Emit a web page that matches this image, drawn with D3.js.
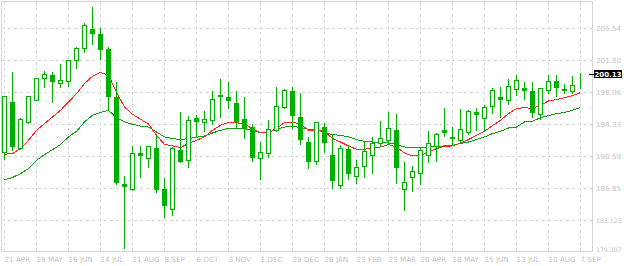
<!DOCTYPE html>
<html>
<head>
<meta charset="utf-8">
<script src="https://cdn.jsdelivr.net/npm/d3@7"></script>
<style>
  body { margin: 0; background: #fff; }
  svg { display: block; }
  .axis text { font-family: "DejaVu Sans", sans-serif; font-size: 7.2px; fill: #c4c4c4; }
  .axis path, .axis line { display: none; }
</style>
</head>
<body>
<div id="chart"></div>
<script>
// weekly candles, 21 Apr 2014 .. 7 Sep 2015
const startDate = "2014-04-21"
const open = [190.99,196.83,191.46,194.50,197.07,199.64,199.99,199.05,199.28,201.74,203.14,205.39,204.81,203.06,197.45,187.29,186.67,190.91,190.29,191.50,186.71,184.34,191.23,190.06,194.96,194.50,194.73,197.65,197.42,196.72,194.88,193.91,190.29,190.88,193.52,196.25,198.15,195.12,192.16,190.01,193.91,190.68,187.14,191.38,188.19,189.36,190.64,192.05,192.40,193.56,186.67,188.08,188.54,190.64,191.65,193.56,192.78,192.40,193.33,195.70,194.96,196.37,197.45,197.07,198.35,198.50,198.15,195.43,198.23,199.32,198.30,198.12,200.10]
const high = [197.60,200.41,195.12,197.69,199.82,200.60,200.49,201.42,201.76,203.41,206.21,208.00,205.66,203.41,199.32,188.34,191.85,191.85,191.85,193.01,188.03,191.65,195.82,195.31,195.47,195.93,198.27,199.64,199.32,198.27,197.53,194.38,192.28,194.88,198.74,198.50,198.74,198.00,192.82,194.55,194.50,193.10,191.96,191.85,190.21,192.40,192.90,194.77,195.82,195.55,189.94,189.48,191.58,193.56,193.36,196.25,194.07,196.17,196.02,196.25,196.63,198.58,198.74,199.64,200.14,199.24,199.32,198.58,200.14,200.14,199.05,199.99,200.40]
const low = [190.13,191.26,191.38,194.45,197.02,198.54,196.90,198.65,198.77,200.87,202.74,203.61,201.85,195.93,187.26,179.85,186.62,188.03,189.31,186.28,183.47,183.64,189.78,189.31,192.82,193.48,194.30,195.15,196.20,193.98,192.63,189.90,187.91,190.41,193.40,196.20,193.83,191.96,189.08,189.63,190.95,186.86,186.86,187.91,187.44,188.03,188.61,191.73,191.93,187.37,184.22,186.44,187.26,189.78,189.94,192.86,191.81,192.23,193.10,193.56,193.52,195.58,195.15,196.60,197.69,197.18,195.15,194.85,197.95,197.60,197.84,197.92,198.50]
const close = [197.53,191.65,194.85,197.53,199.64,200.10,199.24,199.40,201.74,203.14,205.82,204.89,203.09,197.60,187.56,187.02,190.88,190.60,191.69,186.74,184.76,191.50,190.01,194.73,194.68,194.85,197.18,197.49,197.02,194.68,193.83,190.48,190.99,193.68,196.37,198.27,195.27,192.47,190.01,194.50,192.12,187.68,191.50,188.50,189.24,191.11,192.05,192.63,193.80,189.24,187.49,188.78,191.23,192.05,193.10,193.33,192.63,193.68,195.78,195.43,196.25,198.23,197.14,198.70,199.40,198.23,195.62,198.47,199.28,198.65,198.35,198.82,200.13]
// moving averages
const maFast = [190.80,190.88,191.46,192.43,193.60,194.38,195.15,195.93,196.90,197.88,199.05,199.90,200.37,200.02,198.05,196.32,195.47,194.88,194.33,193.01,191.96,191.77,191.58,192.05,192.43,192.82,193.60,194.18,194.50,194.50,194.30,193.80,193.33,193.33,193.80,194.50,194.57,194.30,193.60,193.60,193.48,192.63,192.23,191.77,191.38,191.38,191.53,191.65,191.93,191.65,190.95,190.60,190.68,191.06,191.46,191.73,191.77,192.12,192.51,193.01,193.48,194.15,194.77,195.55,196.13,196.25,196.13,196.52,197.02,197.18,197.42,197.65,198.00]
const maSlow = [187.84,188.08,188.54,189.13,190.10,190.76,191.34,191.93,192.82,193.48,194.57,195.35,195.70,195.93,195.06,194.57,194.30,194.09,193.98,193.40,192.82,192.63,192.51,192.63,192.78,192.93,193.28,193.60,193.80,193.80,193.80,193.60,193.33,193.36,193.71,193.98,194.07,193.91,193.71,193.68,193.28,193.10,193.01,192.82,192.51,192.31,192.23,192.23,192.12,191.93,191.65,191.61,191.61,191.65,191.73,191.77,191.85,192.05,192.23,192.51,192.82,193.21,193.48,193.87,193.98,194.57,194.65,195.08,195.31,195.55,195.67,195.93,196.25]
const yTicks = [179.387,183.123,186.859,190.595,194.331,198.067,201.803,205.539]
const yTickLabels = ["179.387","183.123","186.85","190.59","194.33","198.06","201.80","205.54"]
const xTickLabels = ["21 APR","19 MAY","16 JUN","14 JUL","11 AUG","8 SEP","6 OCT","3 NOV","1 DEC","29 DEC","26 JAN","23 FEB","23 MAR","20 APR","18 MAY","15 JUN","13 JUL","10 AUG","7 SEP"]

const width = 624
const height = 266
const plot = {left: 1.5, right: 592.5, top: 1.5, bottom: 251.5}
const upColor = "#00b000"
const gridColor = "#dadada"

const start = d3.utcParse("%Y-%m-%d")(startDate)
const dates = open.map((d, i) => d3.utcDay.offset(start, 7 * i))
const data = dates.map((d, i) => ({date: d, o: open[i], h: high[i], l: low[i], c: close[i], f: maFast[i], s: maSlow[i]}))

const xScale = d3.scaleUtc()
  .domain([dates[0], dates[dates.length - 1]])
  .range([4.5, 580.5])
const yScale = d3.scaleLinear()
  .domain([179.387, 208.696])
  .range([252, 1])
const px = v => Math.floor(yScale(v)) + 0.5

const svg = d3.select("#chart").append("svg")
  .attr("width", width)
  .attr("height", height)

// grid
const tickDates = dates.filter((d, i) => i % 4 === 0)
const grid = svg.append("g")
  .attr("stroke", gridColor)
  .attr("stroke-dasharray", "3,3")
  .attr("shape-rendering", "crispEdges")
grid.selectAll(".vgrid")
  .data(tickDates)
  .enter().append("line")
    .attr("x1", d => Math.round(xScale(d) - 0.5) + 0.5)
    .attr("x2", d => Math.round(xScale(d) - 0.5) + 0.5)
    .attr("y1", plot.top)
    .attr("y2", plot.bottom)
grid.selectAll(".hgrid")
  .data(yTicks.slice(1))
  .enter().append("line")
    .attr("x1", plot.left)
    .attr("x2", plot.right)
    .attr("y1", d => px(d))
    .attr("y2", d => px(d))

svg.append("rect")
  .attr("x", plot.left)
  .attr("y", plot.top)
  .attr("width", plot.right - plot.left)
  .attr("height", plot.bottom - plot.top)
  .attr("fill", "none")
  .attr("stroke", "#d6d6d6")
  .attr("shape-rendering", "crispEdges")

// moving averages
const lineFast = d3.line().x(d => xScale(d.date)).y(d => yScale(d.f))
const lineSlow = d3.line().x(d => xScale(d.date)).y(d => yScale(d.s))
svg.append("path")
  .datum(data)
  .attr("d", lineSlow)
  .attr("fill", "none")
  .attr("stroke", "#129e12")
  .attr("stroke-width", 1)
  .attr("shape-rendering", "crispEdges")
svg.append("path")
  .datum(data)
  .attr("d", lineFast)
  .attr("fill", "none")
  .attr("stroke", "#ff2424")
  .attr("stroke-width", 1)
  .attr("shape-rendering", "crispEdges")

// candles
const candles = svg.append("g")
  .attr("shape-rendering", "crispEdges")
  .selectAll("g")
  .data(data)
  .enter().append("g")
candles.append("line")
  .attr("x1", d => xScale(d.date))
  .attr("x2", d => xScale(d.date))
  .attr("y1", d => px(d.h))
  .attr("y2", d => px(d.l))
  .attr("stroke", upColor)
candles.append("rect")
  .attr("x", d => xScale(d.date) - 2)
  .attr("width", 4)
  .attr("y", d => px(Math.max(d.o, d.c)))
  .attr("height", d => px(Math.min(d.o, d.c)) - px(Math.max(d.o, d.c)))
  .attr("fill", d => d.c > d.o ? "#fff" : upColor)
  .attr("stroke", upColor)

// axes
const xAxis = svg.append("g")
  .attr("class", "axis")
  .attr("transform", `translate(0, ${plot.bottom})`)
  .call(d3.axisBottom(xScale).tickValues(tickDates).tickSize(0).tickPadding(0)
    .tickFormat((d, i) => xTickLabels[i]))
xAxis.selectAll("text")
  .attr("text-anchor", "start")
  .attr("dx", "-0.5")
  .attr("dy", 0)
  .attr("y", 10.5)

const yAxis = svg.append("g")
  .attr("class", "axis")
  .attr("transform", `translate(${plot.right}, 0)`)
  .call(d3.axisRight(yScale).tickValues(yTicks).tickSize(0).tickPadding(3.5)
    .tickFormat((d, i) => yTickLabels[i]))
yAxis.selectAll("text")
  .attr("dy", (d, i) => i === 0 ? "-0.1em" : "0.36em")
  .filter((d, i) => yTickLabels[i].length > 6)
    .style("font-size", "6.2px")

// last price marker
const last = data[data.length - 1]
const ly = px(last.c)
svg.append("line")
  .attr("x1", 589).attr("x2", 594)
  .attr("y1", ly).attr("y2", ly)
  .attr("stroke", "#000")
  .attr("shape-rendering", "crispEdges")
svg.append("rect")
  .attr("x", 594).attr("y", ly - 4.5)
  .attr("width", 28).attr("height", 8)
  .attr("fill", "#000")
svg.append("text")
  .attr("x", 608).attr("y", ly + 2.6)
  .attr("text-anchor", "middle")
  .attr("fill", "#fff")
  .attr("font-family", "DejaVu Sans, sans-serif")
  .attr("font-weight", "bold")
  .attr("font-size", "7px")
  .text(d3.format(".2f")(last.c))
</script>
</body>
</html>
